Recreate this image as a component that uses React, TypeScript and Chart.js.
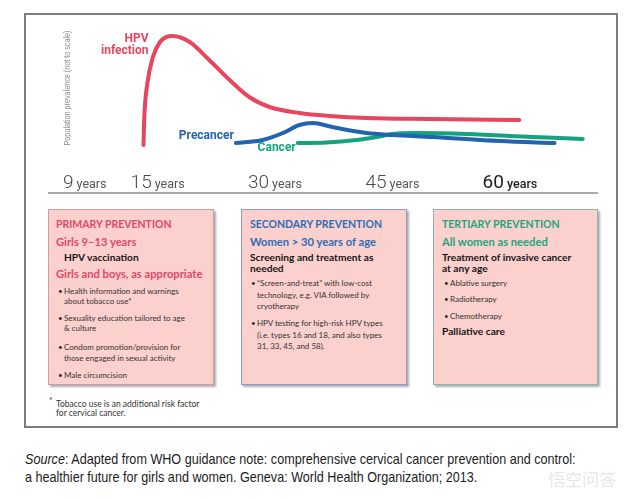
import React, { useEffect, useRef } from "react";
import { Chart, registerables } from "chart.js";

Chart.register(...registerables);

// ---- data (age in years, population prevalence in arbitrary "not to scale" units) ----
const hpvAges = [13.2, 13.3, 13.7, 14.4, 15.3, 16.1, 16.9, 19.1, 21.6, 24.2, 26.7, 29.3, 33.1, 37.0, 41.7, 50.1, 61.2];
const hpvPrevalence = [48, 76, 110, 136, 151, 156, 157, 151, 133, 113, 96, 86, 80, 77, 75, 74, 73];
const precancerAges = [25.0, 28.4, 31.0, 33.1, 34.8, 37.3, 41.7, 45.0, 50.1, 58.7, 65.7];
const precancerPrevalence = [50, 53, 60, 68, 70, 66, 60, 58, 56, 52, 50];
const cancerAges = [32.9, 36.5, 40.4, 43.0, 45.0, 48.1, 54.5, 62.9, 69.3];
const cancerPrevalence = [50, 50.5, 53, 56, 59, 60, 59, 56, 54];
// the "9 years" tick is drawn not to scale in the original
const tickPositions = [5.7, 15, 30, 45, 60];
const tickLabels = ["9", "15", "30", "45", "60"];
const seriesNames = ["HPV infection", "Precancer", "Cancer"];

const RED = "#e6475f";
const BLUE = "#2363b0";
const GREEN = "#14a37d";

const toPoints = (xs: number[], ys: number[]) => xs.map((x, i) => ({ x, y: ys[i] }));

const overlayPlugin = {
  id: "overlay",
  afterDatasetsDraw(chart: any) {
    const { ctx, chartArea, scales } = chart;
    const xs = scales.x;
    const ys = scales.y;
    ctx.save();
    // base line
    ctx.strokeStyle = "#8c8c8c";
    ctx.lineWidth = 1.5;
    ctx.beginPath();
    ctx.moveTo(chartArea.left, chartArea.bottom);
    ctx.lineTo(chartArea.right, chartArea.bottom);
    ctx.stroke();

    // tick labels "N years"
    ctx.textBaseline = "alphabetic";
    ctx.textAlign = "left";
    tickPositions.forEach((v, i) => {
      const last = i === tickPositions.length - 1;
      const numFont = (last ? "400 " : "300 ") + "19px Roboto, 'DejaVu Sans', sans-serif";
      const yrFont = (last ? "500 " : "400 ") + "12.5px Roboto, 'DejaVu Sans', sans-serif";
      ctx.font = numFont;
      const nw = ctx.measureText(tickLabels[i]).width;
      ctx.font = yrFont;
      const yw = ctx.measureText("years").width;
      const gap = 3;
      const total = nw + gap + yw;
      const px = xs.getPixelForValue(v);
      const start = px - total / 2;
      const base = chartArea.bottom - 5;
      ctx.fillStyle = last ? "#1e1e1e" : "#4a4a4a";
      ctx.font = numFont;
      ctx.fillText(tickLabels[i], start, base);
      ctx.fillStyle = last ? "#1e1e1e" : "#555";
      ctx.font = yrFont;
      ctx.fillText("years", start + nw + gap, base);
    });

    // y axis title (condensed)
    ctx.save();
    ctx.translate(chartArea.left + 20, 88);
    ctx.rotate(-Math.PI / 2);
    ctx.scale(0.8, 1);
    ctx.textAlign = "center";
    ctx.textBaseline = "middle";
    ctx.fillStyle = "#8a8a8a";
    ctx.font = "9px 'Liberation Sans', Arial, sans-serif";
    ctx.fillText("Population prevalence (not to scale)", 0, 0);
    ctx.restore();

    // series labels anchored to each series' first point
    ctx.font = "bold 12px Roboto, 'DejaVu Sans', sans-serif";
    ctx.textAlign = "right";
    ctx.textBaseline = "middle";
    const meta0 = chart.getDatasetMeta(0).data[0];
    const meta1 = chart.getDatasetMeta(1).data[0];
    const meta2 = chart.getDatasetMeta(2).data[0];
    ctx.fillStyle = RED;
    const peakY = ys.getPixelForValue(Math.max(...hpvPrevalence));
    ctx.fillText("HPV", meta0.x + 5, peakY + 3);
    ctx.fillText("infection", meta0.x + 5, peakY + 15);
    ctx.fillStyle = BLUE;
    ctx.fillText(seriesNames[1], meta1.x - 2, meta1.y - 7);
    ctx.fillStyle = GREEN;
    ctx.fillText(seriesNames[2], meta2.x - 2, meta2.y + 5);
    ctx.restore();
  },
};

type LineProps = {
  x: number;
  y: number;
  size: number;
  weight?: number;
  color?: string;
  family?: string;
  squeeze?: number;
  children: React.ReactNode;
};

const BOX_FONT = "Lato, 'Open Sans', 'Noto Sans', sans-serif";

function L({ x, y, size, weight = 400, color = "#222", family = BOX_FONT, squeeze = 1, children }: LineProps) {
  const lh = Math.round(size * 1.3);
  return (
    <div
      style={{
        position: "absolute",
        left: x,
        top: y - lh / 2,
        height: lh,
        lineHeight: lh + "px",
        fontSize: size,
        fontWeight: weight,
        color,
        fontFamily: family,
        whiteSpace: "nowrap",
        transform: squeeze !== 1 ? `scaleX(${squeeze})` : undefined,
        transformOrigin: "0 50%",
      }}
    >
      {children}
    </div>
  );
}

function Bullet({ x, y, text }: { x: number; y: number; text: string }) {
  return (
    <>
      <L x={x} y={y} size={8} color="#333">•</L>
      <L x={x + 6} y={y} size={8} color="#333">{text}</L>
    </>
  );
}

function Box({ left, border }: { left: number; border: string }) {
  return (
    <div
      style={{
        position: "absolute",
        left,
        top: 209,
        width: left === 433 ? 165 : 166,
        height: 176,
        background: "#fbd0cd",
        border: "1px solid " + border,
        boxSizing: "border-box",
        boxShadow: "2px 2px 2px rgba(70,70,90,0.45)",
      }}
    />
  );
}

const H1 = 10.5;
const H2 = 11.2;
const H3 = 10.2;

export default function App() {
  const canvasRef = useRef<HTMLCanvasElement>(null);

  useEffect(() => {
    document.body.style.margin = "0";
    const canvas = canvasRef.current;
    if (!canvas) return;
    const chart = new Chart(canvas, {
      type: "line",
      data: {
        datasets: [
          { label: seriesNames[0], data: toPoints(hpvAges, hpvPrevalence), borderColor: RED },
          { label: seriesNames[1], data: toPoints(precancerAges, precancerPrevalence), borderColor: BLUE },
          { label: seriesNames[2], data: toPoints(cancerAges, cancerPrevalence), borderColor: GREEN },
        ].map((d) => ({
          ...d,
          borderWidth: 4,
          pointRadius: 0,
          fill: false,
          cubicInterpolationMode: "monotone" as const,
          borderCapStyle: "round" as const,
          borderJoinStyle: "round" as const,
        })),
      },
      options: {
        responsive: false,
        animation: false,
        devicePixelRatio: 1,
        layout: { padding: { left: 48, right: 42, top: 13, bottom: 7 } },
        plugins: { legend: { display: false }, tooltip: { enabled: false } },
        scales: {
          x: { type: "linear", min: 1, max: 71.25, display: false },
          y: { type: "linear", min: 0, max: 180, display: false },
        },
      },
      plugins: [overlayPlugin],
    });
    return () => chart.destroy();
  }, []);

  const SRC_FONT = "'Liberation Sans', Arial, sans-serif";

  return (
    <div style={{ position: "relative", width: 640, height: 499, background: "#fff", overflow: "hidden" }}>
      <div
        style={{
          position: "absolute",
          left: 24,
          top: 13,
          width: 594,
          height: 415,
          border: "2px solid #7d7d7d",
          boxSizing: "border-box",
        }}
      />
      <canvas ref={canvasRef} width={640} height={200} style={{ position: "absolute", left: 0, top: 0, width: 640, height: 200 }} />

      <Box left={48} border="#cf9aa2" />
      <Box left={241} border="#9598bf" />
      <Box left={433} border="#8fb8a4" />

      {/* Primary */}
      <L x={56} y={224} size={H1} weight={700} color="#e0486a">PRIMARY PREVENTION</L>
      <L x={56} y={241} size={H2} weight={700} color="#e0486a">Girls 9–13 years</L>
      <L x={64} y={257} size={H3} weight={700} color="#151515">HPV vaccination</L>
      <L x={56} y={273} size={H2} weight={700} color="#e0486a">Girls and boys, as appropriate</L>
      <Bullet x={58} y={291} text="Health information and warnings" />
      <L x={64} y={300.5} size={8} color="#333">about tobacco use*</L>
      <Bullet x={58} y={318} text="Sexuality education tailored to age" />
      <L x={64} y={328} size={8} color="#333">&amp; culture</L>
      <Bullet x={58} y={347} text="Condom promotion/provision for" />
      <L x={64} y={358} size={8} color="#333">those engaged in sexual activity</L>
      <Bullet x={58} y={375} text="Male circumcision" />
      <L x={49} y={401} size={8.5} color="#333">*</L>
      <L x={56} y={404} size={8.5} color="#333">Tobacco use is an additional risk factor</L>
      <L x={56} y={413} size={8.5} color="#333">for cervical cancer.</L>

      {/* Secondary */}
      <L x={250} y={224} size={H1} weight={700} color="#2e6db4">SECONDARY PREVENTION</L>
      <L x={250} y={241} size={H2} weight={700} color="#2e6db4">Women &gt; 30 years of age</L>
      <L x={250} y={257} size={H3} weight={700} color="#151515">Screening and treatment as</L>
      <L x={250} y={268} size={H3} weight={700} color="#151515">needed</L>
      <Bullet x={251} y={283} text="“Screen-and-treat” with low-cost" />
      <L x={257} y={294.5} size={8} color="#333">technology, e.g. VIA followed by</L>
      <L x={257} y={306} size={8} color="#333">cryotherapy</L>
      <Bullet x={251} y={323} text="HPV testing for high-risk HPV types" />
      <L x={257} y={334.5} size={8} color="#333">(i.e. types 16 and 18, and also types</L>
      <L x={257} y={346} size={8} color="#333">31, 33, 45, and 58).</L>

      {/* Tertiary */}
      <L x={442} y={224} size={H1} weight={700} color="#1fa47d">TERTIARY PREVENTION</L>
      <L x={442} y={241} size={H2} weight={700} color="#1fa47d">All women as needed</L>
      <L x={442} y={257} size={H3} weight={700} color="#151515">Treatment of invasive cancer</L>
      <L x={442} y={268} size={H3} weight={700} color="#151515">at any age</L>
      <Bullet x={444} y={283} text="Ablative surgery" />
      <Bullet x={444} y={299} text="Radiotherapy" />
      <Bullet x={444} y={316} text="Chemotherapy" />
      <L x={442} y={331} size={H3} weight={700} color="#151515">Palliative care</L>

      {/* Source */}
      <L x={25} y={459} size={15} color="#1c1c1c" family={SRC_FONT} squeeze={0.84}>
        <i>Source</i>: Adapted from WHO guidance note: comprehensive cervical cancer prevention and control:
      </L>
      <L x={25} y={477} size={15} color="#1c1c1c" family={SRC_FONT} squeeze={0.84}>
        a healthier future for girls and women. Geneva: World Health Organization; 2013.
      </L>
      <L x={548} y={479} size={17} color="rgba(200,200,200,0.45)" family="'Noto Sans CJK SC', sans-serif">
        悟空问答
      </L>
    </div>
  );
}
